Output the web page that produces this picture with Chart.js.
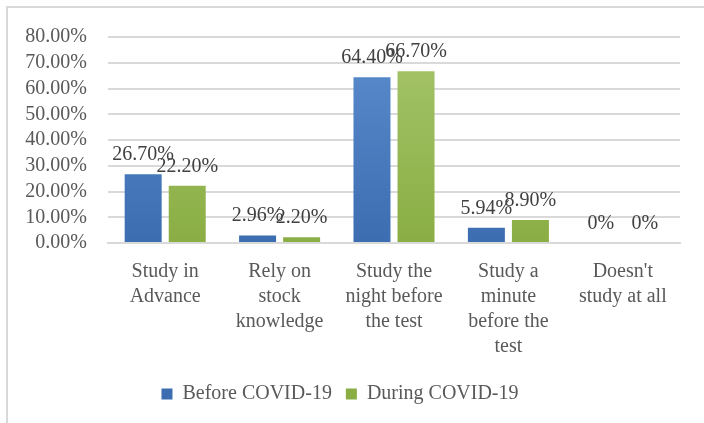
<!DOCTYPE html>
<html>
<head>
<meta charset="utf-8">
<script src="https://cdn.jsdelivr.net/npm/chart.js@4"></script>
<style>
  html, body { margin: 0; padding: 0; background: #fff; }
  #wrap { position: relative; width: 704px; height: 423px; overflow: hidden; }
  #frame { position: absolute; left: 6px; top: 6px; width: 800px; height: 800px;
           border-left: 2px solid #d9d9d9; border-top: 2px solid #d9d9d9; }
  canvas { position: absolute; left: 0; top: 0; }
</style>
</head>
<body>
<div id="wrap">
  <div id="frame"></div>
  <canvas id="myChart" width="704" height="423"></canvas>
</div>
<script>
// Data
const categories = [
    ['Study in', 'Advance'],
    ['Rely on', 'stock', 'knowledge'],
    ['Study the', 'night before', 'the test'],
    ['Study a', 'minute', 'before the', 'test'],
    ["Doesn't", 'study at all']
];
const beforeCovid = [26.70, 2.96, 64.40, 5.94, 0];
const duringCovid = [22.20, 2.20, 66.70, 8.90, 0];
const yTicks = [0, 10, 20, 30, 40, 50, 60, 70, 80];

const FONT = 'Liberation Serif, Times New Roman, serif';
const TEXT_GREY = '#595959';
const GRID_GREY = '#d9d9d9';

function gradient(ctx, top, bottom) {
    var area = ctx.chart.chartArea;
    if (!area) return bottom;
    var g = ctx.chart.ctx.createLinearGradient(0, area.top, 0, area.bottom);
    g.addColorStop(0, top);
    g.addColorStop(1, bottom);
    return g;
}

function fmtLabel(v) {
    return v === 0 ? '0%' : v.toFixed(2) + '%';
}

// draws the value above every bar
const valueLabels = {
    id: 'valueLabels',
    afterDatasetsDraw(chart) {
        var ctx = chart.ctx;
        ctx.save();
        ctx.font = '20px ' + FONT;
        ctx.fillStyle = '#404040';
        ctx.textAlign = 'center';
        ctx.textBaseline = 'alphabetic';
        chart.data.datasets.forEach((ds, i) => {
            chart.getDatasetMeta(i).data.forEach((bar, j) => {
                ctx.fillText(fmtLabel(ds.data[j]), bar.x, bar.y - 14);
            });
        });
        ctx.restore();
    }
};

Chart.defaults.font.family = FONT;
Chart.defaults.font.size = 20;
Chart.defaults.color = TEXT_GREY;

var ctx = document.getElementById('myChart');
var myChart = new Chart(ctx, {
    type: 'bar',
    data: {
        labels: categories,
        datasets: [{
            label: 'Before COVID-19',
            data: beforeCovid,
            backgroundColor: (c) => gradient(c, '#5b8dcf', '#3b6db0'),
            categoryPercentage: 0.77,
            barPercentage: 0.84
        }, {
            label: 'During COVID-19',
            data: duringCovid,
            backgroundColor: (c) => gradient(c, '#a6c56b', '#8aae44'),
            categoryPercentage: 0.77,
            barPercentage: 0.84
        }]
    },
    options: {
        responsive: false,
        animation: false,
        layout: { padding: { left: 0, right: 24, top: 37, bottom: 9 } },
        plugins: {
            tooltip: { enabled: false },
            legend: {
                position: 'bottom',
                labels: {
                    boxWidth: 11,
                    boxHeight: 11,
                    padding: 14,
                    color: TEXT_GREY,
                    font: { size: 20 }
                }
            }
        },
        scales: {
            x: {
                grid: { display: false, drawTicks: false },
                border: { color: GRID_GREY, width: 2 },
                ticks: {
                    maxRotation: 0,
                    autoSkip: false,
                    padding: 16,
                    font: { size: 20, lineHeight: 1.25 }
                },
                afterFit: (axis) => { axis.height = 127; }
            },
            y: {
                min: 0,
                max: 80,
                afterBuildTicks: (axis) => { axis.ticks = yTicks.map((v) => ({ value: v })); },
                grid: { color: GRID_GREY, lineWidth: 2, drawTicks: false },
                border: { display: false },
                ticks: {
                    autoSkip: false,
                    padding: 21,
                    callback: (v) => Number(v).toFixed(2) + '%',
                    font: { size: 20 }
                },
                afterFit: (axis) => { axis.width = 108; }
            }
        }
    },
    plugins: [valueLabels]
});
</script>
</body>
</html>
